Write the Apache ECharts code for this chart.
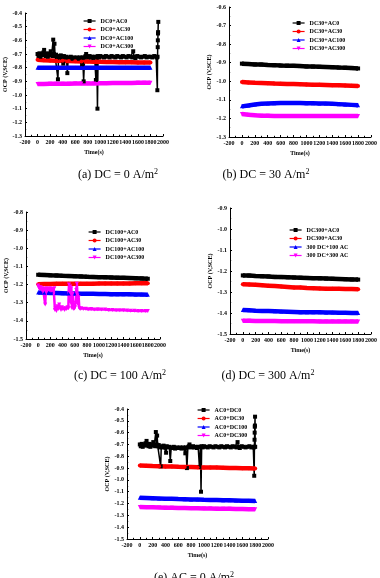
<!DOCTYPE html>
<html>
<head>
<meta charset="utf-8">
<script src="https://cdn.jsdelivr.net/npm/echarts@6/dist/echarts.min.js"></script>
<style>
  html, body { margin: 0; padding: 0; background: #fff; }
  #main { width: 380px; height: 578px; }
</style>
</head>
<body>
<div id="main"></div>
<script>
// ---- data ----
var xTicks = [-200, 0, 200, 400, 600, 800, 1000, 1200, 1400, 1600, 1800, 2000];
var times = [0, 100, 200, 300, 400, 500, 600, 700, 800, 900, 1000, 1100, 1200, 1300, 1400, 1500, 1600, 1700, 1800];

// DC0+AC0 / AC0+DC0 (same noisy record), shared part
var noisyT = [0, 15, 30, 45, 60, 75, 90, 105, 120, 135, 150, 165, 180, 195, 210, 225, 240, 250, 260, 270,
  280, 295, 310, 325, 335, 350, 370, 390, 410, 420, 440, 460, 475, 490, 510, 530, 550, 575, 600, 625,
  650, 675, 700, 710, 720, 735, 750, 765, 775, 790, 810, 830, 850, 870, 890, 910, 930, 945, 955, 965,
  980, 1000, 1030, 1060, 1090, 1120, 1150, 1180, 1210, 1240, 1270, 1300, 1330, 1360, 1390, 1420, 1450, 1480, 1510, 1525,
  1540, 1560, 1590, 1620, 1650, 1680, 1710, 1740, 1770];
var noisyV = [-0.700, -0.715, -0.695, -0.720, -0.700, -0.710, -0.690, -0.670, -0.705, -0.715, -0.695, -0.720, -0.700, -0.710, -0.680, -0.705, -0.715, -0.595, -0.700, -0.625,
  -0.715, -0.705, -0.725, -0.885, -0.715, -0.725, -0.710, -0.725, -0.770, -0.715, -0.725, -0.720, -0.840, -0.725, -0.730, -0.720, -0.735, -0.725, -0.730, -0.725,
  -0.735, -0.725, -0.730, -0.775, -0.725, -0.900, -0.725, -0.715, -0.700, -0.720, -0.725, -0.715, -0.725, -0.720, -0.730, -0.720, -0.890, -0.720, -1.100, -0.715,
  -0.725, -0.715, -0.720, -0.725, -0.715, -0.720, -0.725, -0.715, -0.720, -0.725, -0.715, -0.720, -0.725, -0.715, -0.720, -0.725, -0.715, -0.720, -0.725, -0.680,
  -0.720, -0.730, -0.715, -0.720, -0.725, -0.720, -0.715, -0.725, -0.720];
var tailAT = [1800, 1830, 1860, 1890, 1905, 1910, 1913, 1916, 1918, 1920, 1922, 1925];
var tailAV = [-0.720, -0.725, -0.715, -0.720, -0.725, -0.965, -0.720, -0.650, -0.600, -0.550, -0.540, -0.465];
var tailET = [1780, 1785, 1788, 1790, 1792, 1794, 1796, 1798, 1800];
var tailEV = [-0.725, -0.965, -0.720, -0.660, -0.600, -0.550, -0.540, -0.465, -0.720];

// (a) DC = 0
var dc0ac30 = [-0.742, -0.745, -0.747, -0.749, -0.750, -0.752, -0.753, -0.754, -0.755, -0.756, -0.757, -0.758, -0.759, -0.760, -0.760, -0.761, -0.762, -0.762, -0.763];
var dc0ac100 = [-0.800, -0.800, -0.801, -0.801, -0.801, -0.801, -0.801, -0.801, -0.801, -0.801, -0.801, -0.801, -0.800, -0.800, -0.800, -0.800, -0.800, -0.800, -0.800];
var dc0ac300 = [-0.919, -0.919, -0.918, -0.918, -0.917, -0.917, -0.916, -0.916, -0.915, -0.915, -0.914, -0.914, -0.913, -0.913, -0.912, -0.912, -0.911, -0.911, -0.910];

// (b) DC = 30
var dc30ac0 = [-0.905, -0.907, -0.909, -0.910, -0.912, -0.913, -0.915, -0.916, -0.917, -0.918, -0.920, -0.921, -0.922, -0.923, -0.924, -0.926, -0.927, -0.929, -0.931];
var dc30ac30 = [-1.004, -1.006, -1.008, -1.009, -1.010, -1.012, -1.013, -1.014, -1.015, -1.016, -1.017, -1.018, -1.019, -1.020, -1.021, -1.022, -1.023, -1.024, -1.025];
var dc30ac100 = [-1.135, -1.130, -1.125, -1.121, -1.119, -1.118, -1.117, -1.117, -1.117, -1.117, -1.118, -1.118, -1.119, -1.120, -1.121, -1.123, -1.125, -1.127, -1.129];
var dc30ac300 = [-1.176, -1.180, -1.183, -1.185, -1.186, -1.187, -1.187, -1.187, -1.187, -1.187, -1.187, -1.187, -1.187, -1.187, -1.187, -1.187, -1.187, -1.187, -1.187];

// (c) DC = 100
var dc100ac0 = [-1.146, -1.147, -1.149, -1.150, -1.152, -1.153, -1.154, -1.155, -1.157, -1.158, -1.159, -1.160, -1.161, -1.162, -1.163, -1.164, -1.165, -1.166, -1.168];
var dc100ac30 = [-1.198, -1.197, -1.197, -1.196, -1.196, -1.196, -1.195, -1.195, -1.195, -1.195, -1.194, -1.194, -1.194, -1.194, -1.194, -1.194, -1.193, -1.193, -1.193];
var dc100ac100 = [-1.244, -1.245, -1.246, -1.247, -1.248, -1.249, -1.249, -1.250, -1.251, -1.251, -1.252, -1.252, -1.253, -1.253, -1.254, -1.254, -1.255, -1.255, -1.256];
var ac300cT = [0, 10, 25, 40, 55, 70, 85, 100, 115, 125, 135, 150, 165, 180, 195, 210, 225, 240, 255, 265,
  275, 285, 300, 315, 330, 345, 360, 375, 390, 405, 420, 435, 450, 465, 480, 495, 505, 515, 525, 535,
  545, 555, 565, 575, 585, 595, 605, 615, 625, 635, 645, 655, 665, 675, 690, 710, 740, 780, 820, 870,
  920, 980, 1040, 1100, 1160, 1220, 1280, 1340, 1400, 1460, 1520, 1580, 1640, 1700, 1760, 1800];
var dc100ac300 = [-1.205, -1.215, -1.225, -1.215, -1.230, -1.220, -1.235, -1.225, -1.310, -1.230, -1.220, -1.235, -1.225, -1.230, -1.220, -1.235, -1.225, -1.230, -1.225, -1.220,
  -1.340, -1.330, -1.345, -1.320, -1.335, -1.310, -1.330, -1.340, -1.325, -1.335, -1.330, -1.340, -1.330, -1.335, -1.325, -1.330, -1.200, -1.240, -1.210, -1.300,
  -1.220, -1.330, -1.250, -1.320, -1.335, -1.330, -1.325, -1.300, -1.230, -1.195, -1.260, -1.310, -1.270, -1.330, -1.335, -1.330, -1.335, -1.333, -1.336, -1.335,
  -1.337, -1.336, -1.338, -1.338, -1.340, -1.340, -1.341, -1.342, -1.342, -1.343, -1.344, -1.344, -1.345, -1.345, -1.346, -1.346];

// (d) DC = 300
var dc300ac0 = [-1.221, -1.222, -1.224, -1.225, -1.226, -1.228, -1.229, -1.230, -1.231, -1.232, -1.233, -1.234, -1.235, -1.236, -1.237, -1.238, -1.239, -1.240, -1.241];
var dc300ac30 = [-1.263, -1.264, -1.266, -1.268, -1.270, -1.272, -1.274, -1.276, -1.278, -1.279, -1.281, -1.282, -1.283, -1.284, -1.285, -1.285, -1.286, -1.286, -1.287];
var dc300ac100 = [-1.386, -1.387, -1.389, -1.390, -1.391, -1.392, -1.393, -1.394, -1.395, -1.396, -1.396, -1.397, -1.397, -1.398, -1.398, -1.399, -1.399, -1.400, -1.400];
var dc300ac300 = [-1.437, -1.437, -1.438, -1.438, -1.438, -1.438, -1.439, -1.439, -1.439, -1.439, -1.439, -1.439, -1.440, -1.440, -1.440, -1.440, -1.440, -1.440, -1.440];

// (e) AC = 0
var ac0dc30 = [-0.879, -0.881, -0.883, -0.884, -0.886, -0.887, -0.889, -0.890, -0.891, -0.893, -0.894, -0.895, -0.896, -0.897, -0.899, -0.900, -0.901, -0.902, -0.904];
var ac0dc100 = [-1.151, -1.153, -1.155, -1.157, -1.159, -1.160, -1.162, -1.163, -1.165, -1.166, -1.168, -1.169, -1.170, -1.172, -1.173, -1.174, -1.176, -1.177, -1.179];
var ac0dc300 = [-1.229, -1.231, -1.232, -1.233, -1.235, -1.236, -1.237, -1.238, -1.239, -1.240, -1.241, -1.242, -1.243, -1.244, -1.245, -1.246, -1.247, -1.248, -1.249];

var captions = ['(a) DC = 0 A/m{s|2}', '(b) DC = 30 A/m{s|2}', '(c) DC = 100 A/m{s|2}', '(d) DC = 300 A/m{s|2}', '(e) AC = 0 A/m{s|2}'];

// ---- layout ----
var FONT = 'Liberation Serif';
var grids = [
  {left: 25, top: 13, width: 138, height: 123},
  {left: 229, top: 7, width: 142, height: 130},
  {left: 26, top: 212, width: 134, height: 127},
  {left: 230, top: 208, width: 141, height: 126},
  {left: 127, top: 409, width: 141, height: 130}
];
var yRange = [[-1.3, -0.4], [-1.3, -0.6], [-1.5, -0.8], [-1.5, -0.9], [-1.5, -0.4]];
var captionPos = [[118, 168], [266, 168], [120, 369], [268, 369], [194, 571]];
var legendPos = [[83, 18], [292, 20], [88, 229], [289, 227], [197, 407]];

var COLORS = ['#000000', '#ff0000', '#0000ff', '#ff00ff'];
var SYMBOLS = ['rect', 'circle', 'triangle', 'triangle'];

function pairs(t, v) {
  return t.map(function (x, i) { return [x, v[i]]; });
}

function band(name, idx, k, data) {
  return {
    name: name, type: 'line', xAxisIndex: idx, yAxisIndex: idx,
    data: data, symbol: SYMBOLS[k], symbolSize: 4, symbolRotate: k === 3 ? 180 : 0,
    lineStyle: {width: 4.5, color: COLORS[k]}, itemStyle: {color: COLORS[k]},
    animation: false, silent: true
  };
}

function noisy(name, idx, k, data, w) {
  var s = band(name, idx, k, data);
  s.lineStyle.width = w;
  s.symbolSize = 4;
  return s;
}

var names = [
  ['DC0+AC0', 'DC0+AC30', 'DC0+AC100', 'DC0+AC300'],
  ['DC30+AC0', 'DC30+AC30', 'DC30+AC100', 'DC30+AC300'],
  ['DC100+AC0', 'DC100+AC30', 'DC100+AC100', 'DC100+AC300'],
  ['DC300+AC0', 'DC300+AC30', '300 DC+100 AC', '300 DC+300 AC'],
  ['AC0+DC0', 'AC0+DC30', 'AC0+DC100', 'AC0+DC300']
];

var series = [
  noisy(names[0][0], 0, 0, pairs(noisyT.concat(tailAT), noisyV.concat(tailAV)), 1.5),
  band(names[0][1], 0, 1, pairs(times, dc0ac30)),
  band(names[0][2], 0, 2, pairs(times, dc0ac100)),
  band(names[0][3], 0, 3, pairs(times, dc0ac300)),

  band(names[1][0], 1, 0, pairs(times, dc30ac0)),
  band(names[1][1], 1, 1, pairs(times, dc30ac30)),
  band(names[1][2], 1, 2, pairs(times, dc30ac100)),
  band(names[1][3], 1, 3, pairs(times, dc30ac300)),

  band(names[2][0], 2, 0, pairs(times, dc100ac0)),
  band(names[2][1], 2, 1, pairs(times, dc100ac30)),
  band(names[2][2], 2, 2, pairs(times, dc100ac100)),
  noisy(names[2][3], 2, 3, pairs(ac300cT, dc100ac300), 2.5),

  band(names[3][0], 3, 0, pairs(times, dc300ac0)),
  band(names[3][1], 3, 1, pairs(times, dc300ac30)),
  band(names[3][2], 3, 2, pairs(times, dc300ac100)),
  band(names[3][3], 3, 3, pairs(times, dc300ac300)),

  noisy(names[4][0], 4, 0, pairs(noisyT.concat(tailET), noisyV.concat(tailEV)), 1.5),
  band(names[4][1], 4, 1, pairs(times, ac0dc30)),
  band(names[4][2], 4, 2, pairs(times, ac0dc100)),
  band(names[4][3], 4, 3, pairs(times, ac0dc300))
];

var tickLabel = {fontSize: 6, fontWeight: 'bold', fontFamily: FONT, color: '#000'};
var axisLine = {show: true, onZero: false, lineStyle: {color: '#000', width: 1}};

var xAxis = grids.map(function (g, i) {
  return {
    type: 'value', gridIndex: i, min: xTicks[0], max: xTicks[xTicks.length - 1], interval: 200,
    name: 'Time(s)', nameLocation: 'middle', nameGap: 13,
    nameTextStyle: tickLabel,
    axisLine: axisLine,
    axisTick: {show: true, inside: true, length: 2, lineStyle: {color: '#000'}},
    minorTick: {show: true, splitNumber: 2, length: 1.2, lineStyle: {color: '#000'}},
    axisLabel: Object.assign({margin: 3, hideOverlap: false, showMinLabel: true, showMaxLabel: true,
      formatter: function (v) { return String(v); }}, tickLabel),
    splitLine: {show: false}
  };
});

var yAxis = grids.map(function (g, i) {
  return {
    type: 'value', gridIndex: i, min: yRange[i][0], max: yRange[i][1], interval: 0.1,
    name: 'OCP (V,SCE)', nameLocation: 'middle', nameGap: 15, nameRotate: 90,
    nameTextStyle: tickLabel,
    axisLine: axisLine,
    axisTick: {show: true, inside: true, length: 2, lineStyle: {color: '#000'}},
    minorTick: {show: true, splitNumber: 2, length: 1.2, lineStyle: {color: '#000'}},
    axisLabel: Object.assign({margin: 3, formatter: function (v) { return v.toFixed(1); }}, tickLabel),
    splitLine: {show: false}
  };
});

var title = captions.map(function (c, i) {
  return {
    text: c, left: captionPos[i][0], top: captionPos[i][1], textAlign: 'center', padding: 0,
    textStyle: {
      fontFamily: FONT, fontSize: 12, fontWeight: 'normal', color: '#000',
      rich: {s: {fontFamily: FONT, fontSize: 8, color: '#000', padding: [0, 0, 6, 0]}}
    }
  };
});

var legend = names.map(function (n, i) {
  return {
    data: n, left: legendPos[i][0], top: legendPos[i][1], orient: 'vertical', padding: 0,
    itemWidth: 12, itemHeight: 5, itemGap: 2.5,
    lineStyle: {width: 1.2}, selectedMode: false,
    textStyle: {fontSize: 6, fontWeight: 'bold', fontFamily: FONT, color: '#000', lineHeight: 6}
  };
});

var myChart = echarts.init(document.getElementById('main'), null, {renderer: 'canvas'});
myChart.setOption({
  backgroundColor: '#fff',
  animation: false,
  textStyle: {fontFamily: FONT},
  title: title,
  legend: legend,
  grid: grids,
  xAxis: xAxis,
  yAxis: yAxis,
  series: series
});
</script>
</body>
</html>
